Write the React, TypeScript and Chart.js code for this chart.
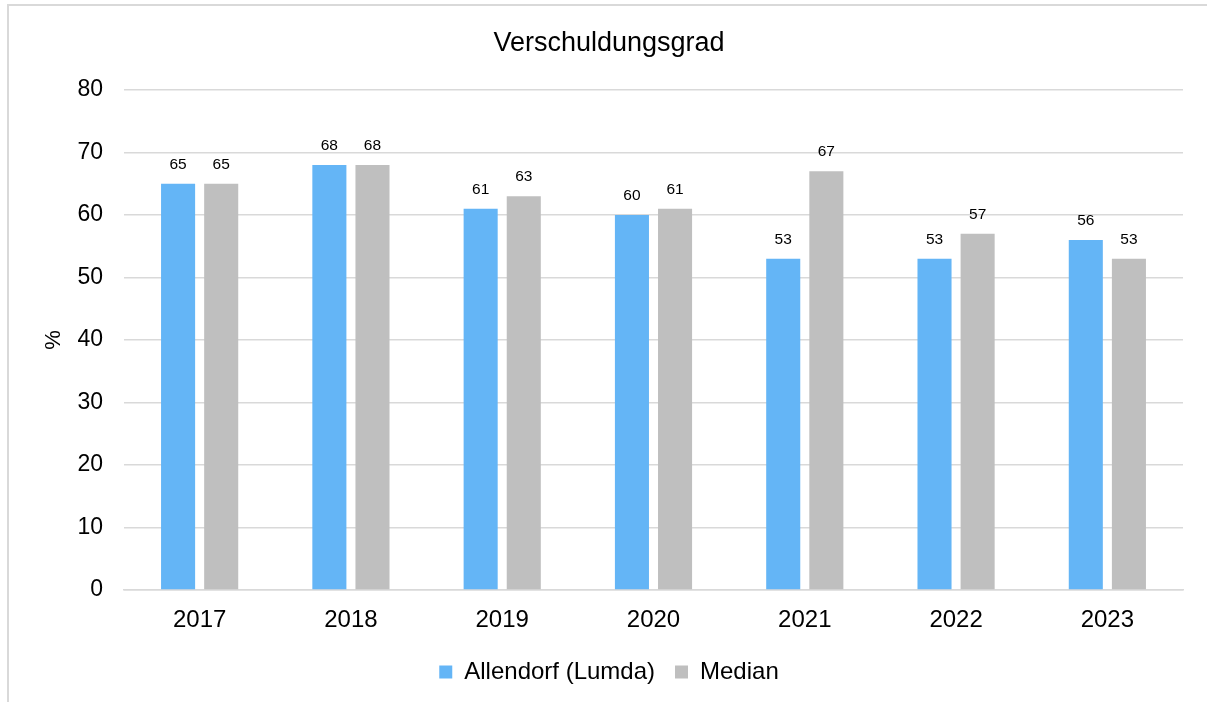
import React, { useEffect, useRef } from "react";
import { Chart, registerables } from "chart.js";

Chart.register(...registerables);

const categories = ["2017", "2018", "2019", "2020", "2021", "2022", "2023"];
const allendorfValues = [65, 68, 61, 60, 53, 53, 56];
const medianValues = [65, 68, 63, 61, 67, 57, 53];
const seriesNames = ["Allendorf (Lumda)", "Median"];
const chartTitle = "Verschuldungsgrad";
const yAxisTitle = "%";

const FONT = '"Liberation Sans", Arial, sans-serif';

const valueLabels = {
  id: "valueLabels",
  afterDatasetsDraw(chart: any) {
    const ctx = chart.ctx;
    ctx.save();
    ctx.font = `15.5px ${FONT}`;
    ctx.fillStyle = "#000";
    ctx.textAlign = "center";
    ctx.textBaseline = "middle";
    chart.data.datasets.forEach((ds: any, i: number) => {
      const meta = chart.getDatasetMeta(i);
      meta.data.forEach((bar: any, j: number) => {
        ctx.fillText(String(ds.data[j]), bar.x, bar.y - 19.5);
      });
    });
    ctx.restore();
  },
};

export default function App() {
  const ref = useRef<HTMLCanvasElement | null>(null);
  useEffect(() => {
    if (!ref.current) return;
    const chart = new Chart(ref.current, {
      type: "bar",
      data: {
        labels: categories,
        datasets: [
          {
            label: seriesNames[0],
            data: allendorfValues,
            backgroundColor: "#64B5F6",
            categoryPercentage: 0.57,
            barPercentage: 0.79,
          },
          {
            label: seriesNames[1],
            data: medianValues,
            backgroundColor: "#BFBFBF",
            categoryPercentage: 0.57,
            barPercentage: 0.79,
          },
        ],
      },
      options: {
        animation: false,
        responsive: false,
        maintainAspectRatio: false,
        layout: { padding: { left: 35, right: 24, top: 0, bottom: 8 } },
        plugins: {
          title: {
            display: true,
            text: chartTitle,
            color: "#000",
            font: { family: FONT, size: 27, weight: "normal" },
            padding: { top: 27, bottom: 30.6 },
          },
          legend: {
            position: "bottom",
            labels: {
              color: "#000",
              font: { family: FONT, size: 24 },
              boxWidth: 13,
              boxHeight: 13,
              padding: 20,
            },
          },
          tooltip: { enabled: false },
        },
        scales: {
          x: {
            grid: { display: false, drawTicks: false },
            border: { color: "#d9d9d9", width: 1.5 },
            ticks: { color: "#000", font: { family: FONT, size: 24 }, padding: 16 },
            afterFit: (s: any) => {
              s.height = 50;
            },
          },
          y: {
            min: 0,
            max: 80,
            ticks: { stepSize: 10, color: "#000", font: { family: FONT, size: 23 }, padding: 21 },
            grid: { color: "#d9d9d9", lineWidth: 1.5, drawTicks: false },
            border: { display: false },
            title: {
              display: true,
              text: yAxisTitle,
              color: "#000",
              font: { family: FONT, size: 22 },
              padding: { top: 6, bottom: 0 },
            },
            afterFit: (s: any) => {
              s.width = 89;
            },
          },
        },
      },
      plugins: [valueLabels],
    });
    return () => chart.destroy();
  }, []);

  return (
    <div style={{ position: "fixed", left: 0, top: 0, width: 1207, height: 702, overflow: "hidden", background: "#fff" }}>
      <div
        style={{
          position: "absolute",
          left: 7,
          top: 4,
          width: 1400,
          height: 900,
          border: "2px solid #d9d9d9",
          boxSizing: "border-box",
        }}
      />
      <canvas ref={ref} width={1207} height={702} style={{ position: "absolute", left: 0, top: 0 }} />
    </div>
  );
}
